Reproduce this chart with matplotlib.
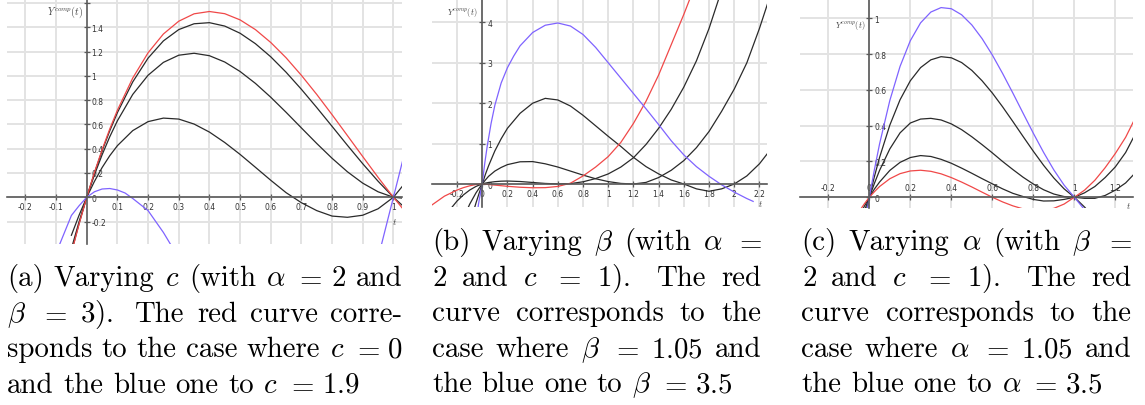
import matplotlib
matplotlib.use('Agg')
import matplotlib.pyplot as plt
from matplotlib.transforms import IdentityTransform

plt.rcParams['mathtext.fontset'] = 'cm'

# ---------------- data ----------------
# panel (a): varying c (alpha=2, beta=3)
t_a = [-0.05, -0.025, 0, 0.025, 0.05, 0.075, 0.1, 0.15, 0.2, 0.25, 0.3, 0.35, 0.4, 0.45,
       0.5, 0.55, 0.6, 0.65, 0.7, 0.75, 0.8, 0.85, 0.9, 0.95, 1.0, 1.05]
red_a = [-0.46, -0.221, 0, 0.204, 0.391, 0.562, 0.717, 0.982, 1.190, 1.345, 1.450, 1.511, 1.530,
         1.512, 1.461, 1.381, 1.275, 1.149, 1.004, 0.847, 0.680, 0.508, 0.335, 0.164, 0, -0.154]
blk1_a = [-0.453, -0.217, 0, 0.200, 0.382, 0.547, 0.697, 0.950, 1.146, 1.288, 1.381, 1.429, 1.438,
          1.410, 1.351, 1.265, 1.157, 1.030, 0.889, 0.739, 0.584, 0.428, 0.276, 0.132, 0, -0.115]
blk2_a = [-0.423, -0.202, 0, 0.184, 0.349, 0.498, 0.630, 0.847, 1.005, 1.111, 1.170, 1.186, 1.166,
          1.114, 1.036, 0.938, 0.824, 0.700, 0.571, 0.443, 0.321, 0.210, 0.116, 0.045, 0, -0.012]
blk3_a = [-0.313, -0.148, 0, 0.130, 0.244, 0.342, 0.425, 0.549, 0.623, 0.652, 0.644, 0.603, 0.537,
          0.451, 0.353, 0.247, 0.140, 0.038, -0.045, -0.110, -0.155, -0.165, -0.148, -0.095, 0, 0.155]
t_blue_a = [-0.1, -0.05, -0.025, 0, 0.025, 0.05, 0.075, 0.1, 0.125, 0.15, 0.2, 0.25, 0.3, 0.35,
            0.4, 0.5, 0.6, 0.7, 0.8, 0.9, 0.95, 1.0, 1.05]
blue_a = [-0.46, -0.15, -0.07, 0, 0.045, 0.068, 0.072, 0.06, 0.035, -0.01, -0.11, -0.29, -0.5, -0.75,
          -1.0, -1.4, -1.6, -1.6, -1.45, -1.05, -0.5, 0, 0.5]

# panel (b): varying beta (alpha=2, c=1)
t_b = [-0.4, -0.3, -0.2, -0.15, -0.1, -0.05, -0.025, 0, 0.025, 0.05, 0.1, 0.15, 0.2, 0.3, 0.4, 0.5,
       0.6, 0.7, 0.8, 0.9, 1.0, 1.1, 1.2, 1.3, 1.4, 1.5, 1.6, 1.7, 1.8, 1.9, 2.0, 2.1, 2.2, 2.3]
red_b = [-0.52, -0.3, -0.15, -0.09, -0.045, -0.012, -0.004, 0, -0.006, -0.012, -0.027, -0.042, -0.057,
         -0.08, -0.093, -0.09, -0.06, 0.02, 0.2, 0.42, 0.68, 1.03, 1.5, 2.05, 2.7, 3.45, 4.2, 5.0,
         5.9, 6.8, 7.8, 8.9, 10.0, 11.0]
blkC_b = [-1.2, -0.8, -0.42, -0.27, -0.15, -0.06, -0.028, 0, 0.022, 0.038, 0.058, 0.07, 0.074, 0.062,
          0.038, 0.014, 0.002, 0.01, 0.055, 0.135, 0.25, 0.42, 0.65, 0.98, 1.38, 1.85, 2.4, 3.05,
          3.85, 4.8, 5.8, 6.9, 8.0, 9.2]
blkB_b = [-3.0, -2.0, -1.2, -0.85, -0.5, -0.22, -0.105, 0, 0.1, 0.19, 0.32, 0.41, 0.48, 0.55, 0.555,
          0.5, 0.42, 0.32, 0.22, 0.13, 0.06, 0.015, 0.0, 0.04, 0.16, 0.34, 0.58, 0.9, 1.3, 1.8,
          2.35, 3.0, 3.85, 4.8]
blkA_b = [-5.0, -3.5, -2.2, -1.6, -1.0, -0.47, -0.23, 0, 0.24, 0.45, 0.82, 1.12, 1.38, 1.75, 2.0, 2.12,
          2.08, 1.93, 1.7, 1.44, 1.18, 0.93, 0.66, 0.43, 0.25, 0.1, 0.0, -0.12, -0.18, -0.12, 0.0,
          0.2, 0.5, 0.9]
t_blue_b = [-0.05, -0.03, -0.015, 0, 0.01, 0.02, 0.04, 0.07, 0.1, 0.15, 0.2, 0.25, 0.3, 0.4, 0.5, 0.6,
            0.7, 0.8, 0.9, 1.0, 1.1, 1.2, 1.3, 1.4, 1.5, 1.6, 1.7, 1.8, 1.9, 2.0, 2.1, 2.15]
blue_b = [-1.0, -0.5, -0.23, 0, 0.27, 0.52, 0.95, 1.5, 1.95, 2.5, 2.88, 3.17, 3.42, 3.75, 3.93, 3.985,
          3.91, 3.7, 3.38, 3.0, 2.62, 2.24, 1.86, 1.47, 1.07, 0.72, 0.43, 0.19, -0.02, -0.2, -0.36, -0.43]

# panel (c): varying alpha (beta=2, c=1)
t_c = [-0.05, -0.025, 0, 0.025, 0.05, 0.1, 0.15, 0.2, 0.25, 0.3, 0.35, 0.4, 0.45, 0.5, 0.55, 0.6,
       0.65, 0.7, 0.75, 0.8, 0.85, 0.9, 0.95, 1.0, 1.05, 1.1, 1.15, 1.2, 1.25, 1.3]
red_c = [-0.08, -0.038, 0, 0.031, 0.060, 0.1035, 0.132, 0.147, 0.151, 0.145, 0.131, 0.110, 0.085,
         0.0575, 0.0285, 0, -0.026, -0.048, -0.065, -0.074, -0.073, -0.062, -0.038, 0, 0.04, 0.095,
         0.165, 0.245, 0.335, 0.45]
blk3_c = [-0.11, -0.052, 0, 0.046, 0.085, 0.15, 0.195, 0.222, 0.233, 0.228, 0.212, 0.19, 0.163, 0.134,
          0.104, 0.075, 0.047, 0.022, 0.004, -0.012, -0.021, -0.02, -0.012, 0, 0.025, 0.06, 0.11,
          0.17, 0.25, 0.36]
blk2_c = [-0.17, -0.08, 0, 0.078, 0.15, 0.27, 0.36, 0.415, 0.437, 0.441, 0.432, 0.41, 0.378, 0.338,
          0.294, 0.248, 0.2, 0.155, 0.112, 0.074, 0.042, 0.018, 0.004, 0, -0.006, -0.006, 0.01, 0.04,
          0.08, 0.14]
blk1_c = [-0.267, -0.128, 0, 0.116, 0.2225, 0.403, 0.545, 0.651, 0.7245, 0.768, 0.7856, 0.7795, 0.753,
          0.709, 0.651, 0.5825, 0.5055, 0.4235, 0.3396, 0.257, 0.1786, 0.1076, 0.047, 0, -0.055,
          -0.12, -0.2, -0.3, -0.4, -0.5]
blue_c = [-0.358, -0.17, 0, 0.155, 0.298, 0.5406, 0.7315, 0.875, 0.9747, 1.035, 1.060, 1.0537, 1.020,
          0.963, 0.8866, 0.795, 0.692, 0.5825, 0.4697, 0.3576, 0.2507, 0.1527, 0.0678, 0, -0.07,
          -0.15, -0.25, -0.35, -0.45, -0.55]

# ticks
xt_a = [-0.2, -0.1, 0.1, 0.2, 0.3, 0.4, 0.5, 0.6, 0.7, 0.8, 0.9, 1.0]
xtl_a = ['-0.2', '-0.1', '0.1', '0.2', '0.3', '0.4', '0.5', '0.6', '0.7', '0.8', '0.9', '1']
yt_a = [-0.2, 0, 0.2, 0.4, 0.6, 0.8, 1.0, 1.2, 1.4, 1.6]
ytl_a = ['-0.2', '0', '0.2', '0.4', '0.6', '0.8', '1', '1.2', '1.4', '']
xt_b = [-0.2, 0, 0.2, 0.4, 0.6, 0.8, 1.0, 1.2, 1.4, 1.6, 1.8, 2.0, 2.2]
xtl_b = ['-0.2', '0', '0.2', '0.4', '0.6', '0.8', '1', '1.2', '1.4', '1.6', '1.8', '2', '2.2']
yt_b = [0, 1, 2, 3, 4]
ytl_b = ['0', '1', '2', '3', '4']
xt_c = [-0.2, 0, 0.2, 0.4, 0.6, 0.8, 1.0, 1.2]
xtl_c = ['-0.2', '0', '0.2', '0.4', '0.6', '0.8', '1', '1.2']
yt_c = [0, 0.2, 0.4, 0.6, 0.8, 1.0]
ytl_c = ['0', '0.2', '0.4', '0.6', '0.8', '1']

# ---------------- figure ----------------
W, H = 1145, 406
fig = plt.figure(figsize=(W / 100, H / 100), dpi=100)

RED = '#f04848'
BLUE = '#7f63ff'
BLK = '#2a2a2a'
GRID = '#e3e3e3'
AX = '#5a5a5a'


def panel(x0, y0, x1, y1):
    return fig.add_axes([x0 / W, 1 - y1 / H, (x1 - x0) / W, (y1 - y0) / H])


def style(ax, xlim, ylim, xt, xtl, yt, ytl, top=False):
    ax.set_xlim(*xlim)
    ax.set_ylim(*ylim)
    for s in ax.spines.values():
        s.set_visible(False)
    xs = 'top' if top else 'bottom'
    for s in (xs, 'right'):
        ax.spines[s].set_visible(True)
        ax.spines[s].set_position(('data', 0))
        ax.spines[s].set_color(AX)
        ax.spines[s].set_linewidth(1.2)
    ax.xaxis.set_ticks_position(xs)
    ax.yaxis.set_ticks_position('right')
    ax.set_xticks(xt)
    ax.set_xticklabels(xtl)
    ax.set_yticks(yt)
    ax.set_yticklabels(ytl)
    ax.tick_params(axis='both', direction='inout', length=5, width=0.9, color=AX,
                   labelsize=5.5, labelcolor='#333333', pad=1)
    ax.grid(True, color=GRID, linewidth=1.4)
    ax.set_axisbelow(True)
    ax.patch.set_alpha(0)


LW = 0.9

# (a)
axa = panel(7, 0, 402, 245)
style(axa, (-0.26, 1.028), (-0.385, 1.633), xt_a, xtl_a, yt_a, ytl_a)
for yv in (blk1_a, blk2_a, blk3_a):
    axa.plot(t_a, yv, color=BLK, lw=LW)
axa.plot(t_a, red_a, color=RED, lw=LW)
axa.plot(t_blue_a, blue_a, color=BLUE, lw=LW)
axa.text(-0.012, 1.53, r'$Y^{comp}(t)$', fontsize=7.2, ha='right', va='center', color='#444444')
axa.text(1.005, -0.195, r'$t$', fontsize=7, ha='center', va='center', color='#444444')

# (b)
axb = panel(432, 0, 767, 208)
style(axb, (-0.399, 2.26), (-0.569, 4.579), xt_b, xtl_b, yt_b, ytl_b)
for yv in (blkA_b, blkB_b, blkC_b):
    axb.plot(t_b, yv, color=BLK, lw=LW)
axb.plot(t_b, red_b, color=RED, lw=LW)
axb.plot(t_blue_b, blue_b, color=BLUE, lw=LW)
axb.text(-0.042, 4.26, r'$Y^{comp}(t)$', fontsize=6, ha='right', va='center', color='#444444')
axb.text(2.205, -0.47, r'$t$', fontsize=6.5, ha='center', va='center', color='#444444')

# (c)
axc = panel(800, 0, 1133, 209)
style(axc, (-0.338, 1.286), (-0.06, 1.108), xt_c, xtl_c, yt_c, ytl_c, top=True)
for yv in (blk1_c, blk2_c, blk3_c):
    axc.plot(t_c, yv, color=BLK, lw=LW)
axc.plot(t_c, red_c, color=RED, lw=LW)
axc.plot(t_c, blue_c, color=BLUE, lw=LW)
axc.text(-0.021, 0.968, r'$Y^{comp}(t)$', fontsize=6, ha='right', va='center', color='#444444')
axc.text(1.262, -0.043, r'$t$', fontsize=6.5, ha='center', va='center', color='#444444')

# ---------------- captions (justified, TeX-like) ----------------
FS = 20.8
EM = FS * 100 / 72
GLUE = {'w': (0.3333, 0.1667), 's': (0.4444, 0.5), 'r': (0.2778, 0.2778)}
renderer = fig.canvas.get_renderer()
ID = IdentityTransform()


def caption_line(tokens, glues, x0, x1, ybase, justify=True):
    texts = [fig.text(0, H - ybase, tk, fontsize=FS, family='cmr10', va='baseline',
                      transform=ID) for tk in tokens]
    widths = [t.get_window_extent(renderer).width for t in texts]
    nat = sum(GLUE[g][0] for g in glues) * EM
    st = sum(GLUE[g][1] for g in glues) * EM
    r = (x1 - x0 - sum(widths) - nat) / st if (justify and st > 0) else 0.0
    x = x0
    for i, t in enumerate(texts):
        t.set_x(x)
        x += widths[i]
        if i < len(glues):
            x += (GLUE[glues[i]][0] + GLUE[glues[i]][1] * r) * EM


# (a)
xa0, xa1 = 7, 402.5
caption_line(['(a)', 'Varying', '$c$', '(with', r'$\alpha$', '$=$', '$2$', 'and'],
             ['w', 'w', 'w', 'w', 'r', 'r', 'w'], xa0, xa1, 286.5)
caption_line([r'$\beta$', '$=$', '$3$).', 'The', 'red', 'curve', 'corre-'],
             ['r', 'r', 's', 'w', 'w', 'w'], xa0, xa1, 322)
caption_line(['sponds', 'to', 'the', 'case', 'where', '$c$', '$=$', '$0$'],
             ['w', 'w', 'w', 'w', 'w', 'r', 'r'], xa0, xa1, 357.5)
caption_line(['and', 'the', 'blue', 'one', 'to', '$c$', '$=$', '$1.9$'],
             ['w', 'w', 'w', 'w', 'w', 'r', 'r'], xa0, xa1, 393, justify=False)

# (b)
xb0, xb1 = 432, 761.5
caption_line(['(b)', 'Varying', r'$\beta$', '(with', r'$\alpha$', '$=$'],
             ['w', 'w', 'w', 'w', 'r'], xb0, xb1, 250)
caption_line(['$2$', 'and', '$c$', '$=$', '$1$).', 'The', 'red'],
             ['w', 'w', 'r', 'r', 's', 'w'], xb0, xb1, 286)
caption_line(['curve', 'corresponds', 'to', 'the'], ['w', 'w', 'w'], xb0, xb1, 321.5)
caption_line(['case', 'where', r'$\beta$', '$=$', '$1.05$', 'and'],
             ['w', 'w', 'r', 'r', 'w'], xb0, xb1, 357.5)
caption_line(['the', 'blue', 'one', 'to', r'$\beta$', '$=$', '$3.5$'],
             ['w', 'w', 'w', 'w', 'r', 'r'], xb0, xb1, 392.5, justify=False)

# (c)
xc0, xc1 = 801.5, 1131.5
caption_line(['(c)', 'Varying', r'$\alpha$', '(with', r'$\beta$', '$=$'],
             ['w', 'w', 'w', 'w', 'r'], xc0, xc1, 250)
caption_line(['$2$', 'and', '$c$', '$=$', '$1$).', 'The', 'red'],
             ['w', 'w', 'r', 'r', 's', 'w'], xc0, xc1, 286)
caption_line(['curve', 'corresponds', 'to', 'the'], ['w', 'w', 'w'], xc0, xc1, 321.5)
caption_line(['case', 'where', r'$\alpha$', '$=$', '$1.05$', 'and'],
             ['w', 'w', 'r', 'r', 'w'], xc0, xc1, 357.5)
caption_line(['the', 'blue', 'one', 'to', r'$\alpha$', '$=$', '$3.5$'],
             ['w', 'w', 'w', 'w', 'r', 'r'], xc0, xc1, 392.5, justify=False)

fig.savefig('out.png', dpi=100)
